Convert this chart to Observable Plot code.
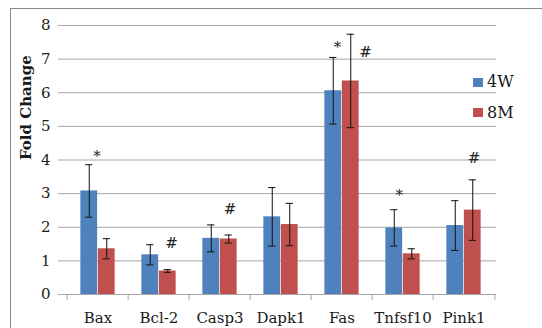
<!DOCTYPE html>
<html>
<head>
<meta charset="utf-8">
<script src="https://cdn.jsdelivr.net/npm/d3@7"></script>
<script src="https://cdn.jsdelivr.net/npm/@observablehq/plot@0.6"></script>
<style>
  html, body { margin: 0; padding: 0; background: #fff; overflow: hidden; }
  #wrap { position: relative; width: 542px; height: 328px; font-family: "DejaVu Serif", serif; }
  #border { position: absolute; left: 10px; top: 8px; width: 600px; height: 400px; border: 1.5px solid #8a8a8a; box-sizing: border-box; pointer-events: none; }
  #chart { position: absolute; left: 0; top: 0; }
  .lg { position: absolute; font-size: 16px; line-height: 16px; color: #1a1a1a; }
  .sw { position: absolute; width: 10px; height: 9px; }
</style>
</head>
<body>
<div id="wrap">
  <div id="chart"></div>
  <div id="border"></div>
  <div id="legend"></div>
</div>
<script>
// ---- data ----
const genes = ["Bax", "Bcl-2", "Casp3", "Dapk1", "Fas", "Tnfsf10", "Pink1"];
const seriesNames = ["4W", "8M"];
const seriesColors = ["#4F81BD", "#C0504D"];
const mean4W = [3.08, 1.18, 1.67, 2.31, 6.06, 1.98, 2.05];
const err4W  = [0.78, 0.30, 0.40, 0.87, 0.99, 0.54, 0.74];
const mean8M = [1.36, 0.70, 1.65, 2.08, 6.35, 1.21, 2.51];
const err8M  = [0.30, 0.04, 0.12, 0.63, 1.39, 0.15, 0.90];
const yTicks = [0, 1, 2, 3, 4, 5, 6, 7, 8];
const annGene   = ["Bax", "Bcl-2", "Casp3", "Fas", "Fas", "Tnfsf10", "Pink1"];
const annSymbol = ["*", "#", "#", "*", "#", "*", "#"];
const annY      = [4.23, 1.53, 2.55, 7.46, 7.21, 3.07, 4.04];

// ---- layout ----
const W = 542, H = 328, mL = 64, mR = 46, mT = 25, mB = 34;
const step = (W - mL - mR) / genes.length;
const barW = 17.5;
const offs = [-barW / 2, barW / 2];
const annDx = [-1, 12.6, 10, -4.6, 23.5, -3.8, 10];

const rows = [];
genes.forEach((g, i) => {
  rows.push({gene: g, series: "4W", value: mean4W[i], err: err4W[i]});
  rows.push({gene: g, series: "8M", value: mean8M[i], err: err8M[i]});
});

const grid = "#a6a6a6";
const marks = [
  Plot.gridY(yTicks.slice(1), {stroke: grid, strokeOpacity: 1}),
  Plot.ruleY([0], {stroke: grid}),
  Plot.axisY(yTicks, {tickSize: 6, tickPadding: 8, stroke: grid, fill: "#222", fontSize: 15, label: null, line: true})
];
seriesNames.forEach((s, k) => {
  const d = rows.filter(r => r.series === s);
  marks.push(Plot.barY(d, {x: "gene", y: "value", fill: seriesColors[k], dx: offs[k], insetLeft: (step - barW) / 2, insetRight: (step - barW) / 2}));
});
seriesNames.forEach((s, k) => {
  const d = rows.filter(r => r.series === s);
  marks.push(Plot.ruleX(d, {x: "gene", y1: r => r.value - r.err, y2: r => r.value + r.err, dx: offs[k], stroke: "#111", strokeWidth: 1}));
  marks.push(Plot.tickY(d, {x: "gene", y: r => r.value + r.err, dx: offs[k], inset: (step - 8) / 2, stroke: "#111", strokeWidth: 1}));
  marks.push(Plot.tickY(d, {x: "gene", y: r => r.value - r.err, dx: offs[k], inset: (step - 8) / 2, stroke: "#111", strokeWidth: 1}));
});
annGene.forEach((g, i) => {
  marks.push(Plot.text([i], {x: () => g, y: () => annY[i], text: () => annSymbol[i], dx: annDx[i], dy: annSymbol[i] === "*" ? 4 : 0, fontSize: 15, fill: "#222"}));
});
marks.push(Plot.axisX(genes, {tickSize: 6, tickFormat: () => "", dx: -step / 2, stroke: grid, label: null}));
marks.push(Plot.axisX([genes[genes.length - 1]], {tickSize: 6, tickFormat: () => "", dx: step / 2, stroke: grid, label: null}));
marks.push(Plot.axisX(genes, {tickSize: 0, tickPadding: 18, fontSize: 15, fill: "#1a1a1a", label: null}));
marks.push(Plot.text(["Fold Change"], {frameAnchor: "left", rotate: -90, dx: -38, fontSize: 15, fontWeight: "bold", fill: "#1a1a1a"}));

const chart = Plot.plot({
  width: W, height: H,
  marginLeft: mL, marginRight: mR, marginTop: mT, marginBottom: mB,
  style: {fontFamily: "DejaVu Serif, serif", background: "transparent"},
  x: {domain: genes, padding: 0},
  y: {domain: [0, 8]},
  marks
});
document.getElementById("chart").appendChild(chart);

// legend
const lg = document.getElementById("legend");
seriesNames.forEach((s, k) => {
  const sw = document.createElement("div");
  sw.className = "sw";
  sw.style.left = "473px";
  sw.style.top = (78 + 30 * k) + "px";
  sw.style.background = seriesColors[k];
  lg.appendChild(sw);
  const t = document.createElement("div");
  t.className = "lg";
  t.style.left = "487px";
  t.style.top = (74 + 30.5 * k) + "px";
  t.textContent = s;
  lg.appendChild(t);
});
</script>
</body>
</html>
